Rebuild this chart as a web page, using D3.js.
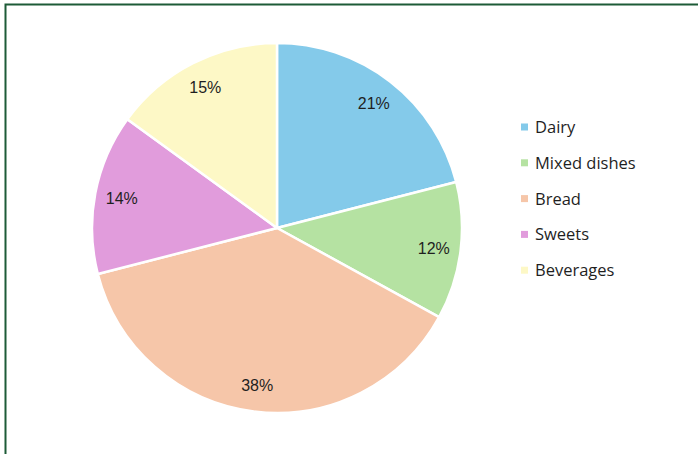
<!DOCTYPE html>
<html>
<head>
<meta charset="utf-8">
<script src="https://cdn.jsdelivr.net/npm/d3@7"></script>
<style>
  html, body { margin: 0; padding: 0; background: #fff; }
  svg { display: block; font-family: "Open Sans", "Noto Sans", sans-serif; }
</style>
</head>
<body>
<div id="chart"></div>
<script>
/* --- data --- */
const categories = ["Dairy", "Mixed dishes", "Bread", "Sweets", "Beverages"];
const shares = [21, 12, 38, 14, 15];
const colors = ["#84caea", "#b5e2a2", "#f6c6a9", "#e19cdc", "#fdf8c6"];

/* --- viewport --- */
const width = 698, height = 454;
const center = {x: 277, y: 228};
const radius = 185;
const labelRadius = 158;

const svg = d3.select("#chart").append("svg")
    .attr("width", width)
    .attr("height", height);

// frame (right and bottom edges fall outside the picture)
svg.append("rect")
    .attr("x", 5.5).attr("y", 4.5)
    .attr("width", 800).attr("height", 600)
    .attr("fill", "none")
    .attr("stroke", "#1d5b37")
    .attr("stroke-width", 2);

const color = d3.scaleOrdinal().domain(categories).range(colors);

const pie = d3.pie().sort(null).value(d => d.value);
const data = categories.map((c, i) => ({name: c, value: shares[i]}));
const arcs = pie(data);

const arc = d3.arc().innerRadius(0).outerRadius(radius);
const labelArc = d3.arc().innerRadius(labelRadius).outerRadius(labelRadius);

const g = svg.append("g").attr("transform", `translate(${center.x},${center.y})`);

g.selectAll("path")
    .data(arcs)
    .enter()
    .append("path")
    .attr("d", arc)
    .attr("fill", d => color(d.data.name))
    .attr("stroke", "#fff")
    .attr("stroke-width", 2.5)
    .attr("stroke-linejoin", "round");

g.selectAll("text.pct")
    .data(arcs)
    .enter()
    .append("text")
    .attr("class", "pct")
    .attr("transform", d => `translate(${labelArc.centroid(d)})`)
    .attr("text-anchor", "middle")
    .attr("dy", "0.36em")
    .attr("font-family", "'Liberation Sans', Arial, sans-serif")
    .attr("font-size", 16)
    .attr("fill", "#1f1f1f")
    .text(d => d.data.value + "%");

/* --- legend --- */
const legend = svg.append("g").attr("transform", "translate(521,127)");
const rowStep = 35.8;

const rows = legend.selectAll("g")
    .data(categories)
    .enter()
    .append("g")
    .attr("transform", (d, i) => `translate(0,${i * rowStep})`);

rows.append("rect")
    .attr("x", 0).attr("y", -3.5)
    .attr("width", 7).attr("height", 7)
    .attr("fill", d => color(d));

rows.append("text")
    .attr("x", 14)
    .attr("dy", "0.36em")
    .attr("font-size", 16.5)
    .attr("fill", "#1f1f1f")
    .text(d => d);
</script>
</body>
</html>
